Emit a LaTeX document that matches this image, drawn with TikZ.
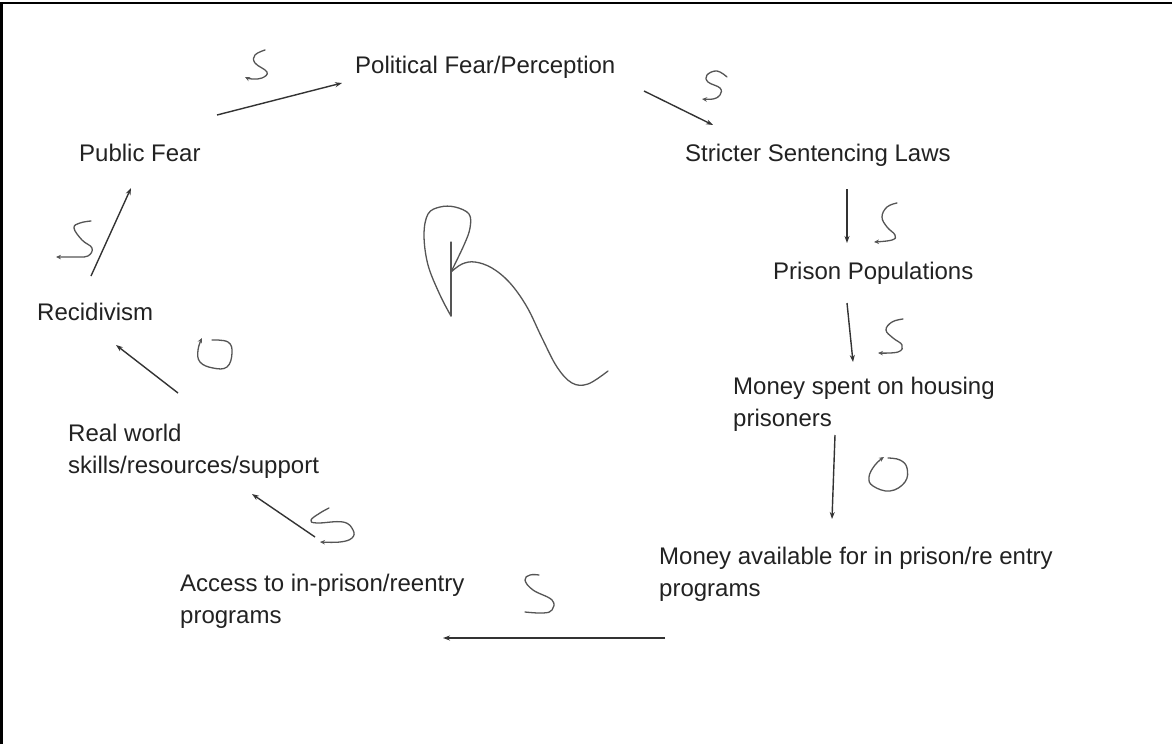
\documentclass[tikz,border=0pt]{standalone}
\usepackage{fontspec}
\setmainfont{Liberation Sans}
\usetikzlibrary{arrows.meta}
\definecolor{txt}{HTML}{222222}
\definecolor{arr}{HTML}{333333}
\definecolor{hand}{HTML}{555555}
\begin{document}
\begin{tikzpicture}[x=1pt,y=-1pt,
  lbl/.style={anchor=base west, inner sep=0pt, text=txt, font=\fontsize{24}{32}\selectfont, align=left},
  link/.style={draw=arr, line width=1.4pt, -{Stealth[length=7pt,width=5pt]}},
  handmark/.style={draw=hand, line width=1.3pt, line cap=round, line join=round},
  handarrow/.style={handmark, -{Stealth[length=5pt,width=4.5pt]}}]
\useasboundingbox (0,0) rectangle (1172,744);
\fill[white] (0,0) rectangle (1172,744);
% frame
\draw[line width=2.5pt] (1.4,744) -- (1.4,3) -- (1172,3);

% labels (base anchor = baseline of the last line)
\node[lbl] (pol) at (355,73) {Political Fear/Perception};
\node[lbl] (pub) at (79,161) {Public Fear};
\node[lbl] (str) at (685,161) {Stricter Sentencing Laws};
\node[lbl] (pri) at (773,279) {Prison Populations};
\node[lbl] (spe) at (733,426) {Money spent on housing\\prisoners};
\node[lbl] (ava) at (659,596) {Money available for in prison/re entry\\programs};
\node[lbl] (acc) at (180,623) {Access to in-prison/reentry\\programs};
\node[lbl] (rea) at (68,473) {Real world\\skills/resources/support};
\node[lbl] (rec) at (37,320) {Recidivism};

% connector end points
\coordinate (a1s) at (217,115); \coordinate (a1e) at (342,83);
\coordinate (a2s) at (644,91);  \coordinate (a2e) at (713,125);
\coordinate (a3s) at (847,189); \coordinate (a3e) at (847,243);
\coordinate (a4s) at (847,303); \coordinate (a4e) at (853,362);
\coordinate (a5s) at (835,435); \coordinate (a5e) at (832,519);
\coordinate (a6s) at (665,638); \coordinate (a6e) at (443,638);
\coordinate (a7s) at (315,537); \coordinate (a7e) at (252,494);
\coordinate (a8s) at (178,393); \coordinate (a8e) at (116,345);
\coordinate (a9s) at (91,276);  \coordinate (a9e) at (131,188);

\draw[link] (a1s) -- (a1e);
\draw[link] (a2s) -- (a2e);
\draw[link] (a3s) -- (a3e);
\draw[link] (a4s) -- (a4e);
\draw[link] (a5s) -- (a5e);
\draw[link] (a6s) -- (a6e);
\draw[link] (a7s) -- (a7e);
\draw[link] (a8s) -- (a8e);
\draw[link] (a9s) -- (a9e);

% hand-drawn polarity marks (S)
\draw[handarrow] plot[smooth, tension=0.7] coordinates {(265,50) (255,55) (255,63) (267,72) (262,78) (252,79) (245,77)};
\draw[handarrow] plot[smooth, tension=0.7] coordinates {(727,77) (717,71) (707,75) (708,82) (720,88) (720,95) (713,99) (702,99)};
\draw[handarrow] plot[smooth, tension=0.7] coordinates {(897,203) (887,207) (882,217) (887,227) (895,235) (892,240) (874,242)};
\draw[handarrow] plot[smooth, tension=0.7] coordinates {(903,319) (892,322) (886,330) (893,338) (902,345) (898,352) (878,353)};
\draw[handarrow] plot[smooth, tension=0.7] coordinates {(91,221) (80,223) (74,228) (82,240) (92,248) (88,256) (77,257) (56,257)};
\draw[handarrow] plot[smooth, tension=0.7] coordinates {(329,508) (320,513) (311,520) (317,523) (343,522) (353,530) (352,538) (340,542) (320,542)};
\draw[handmark] plot[smooth, tension=0.7] coordinates {(539,575) (530,575) (525,580) (533,590) (552,600) (552,610) (543,613) (525,612)};

% hand-drawn polarity marks (O)
\draw[handarrow] plot[smooth, tension=0.7] coordinates {(212,340) (228,342) (232,353) (227,367) (213,368) (200,362) (198,350) (202,338)};
\draw[handarrow] plot[smooth, tension=0.7] coordinates {(888,458) (900,460) (907,468) (905,482) (890,491) (873,486) (869,477) (875,465) (884,457)};

% loop identifier (R)
\draw[handmark] (451,242) -- (451,316);
\draw[handmark] plot[smooth, tension=0.6] coordinates {(451,316) (440,295) (428,265) (424,235) (428,214) (440,207) (455,207) (469,214) (470,228) (464,245) (451,272)};
\draw[handmark] plot[smooth, tension=0.6] coordinates {(451,272) (462,264) (475,262) (492,268) (510,283) (527,307) (542,338) (557,367) (572,383) (588,384) (608,371)};
\end{tikzpicture}
\end{document}
